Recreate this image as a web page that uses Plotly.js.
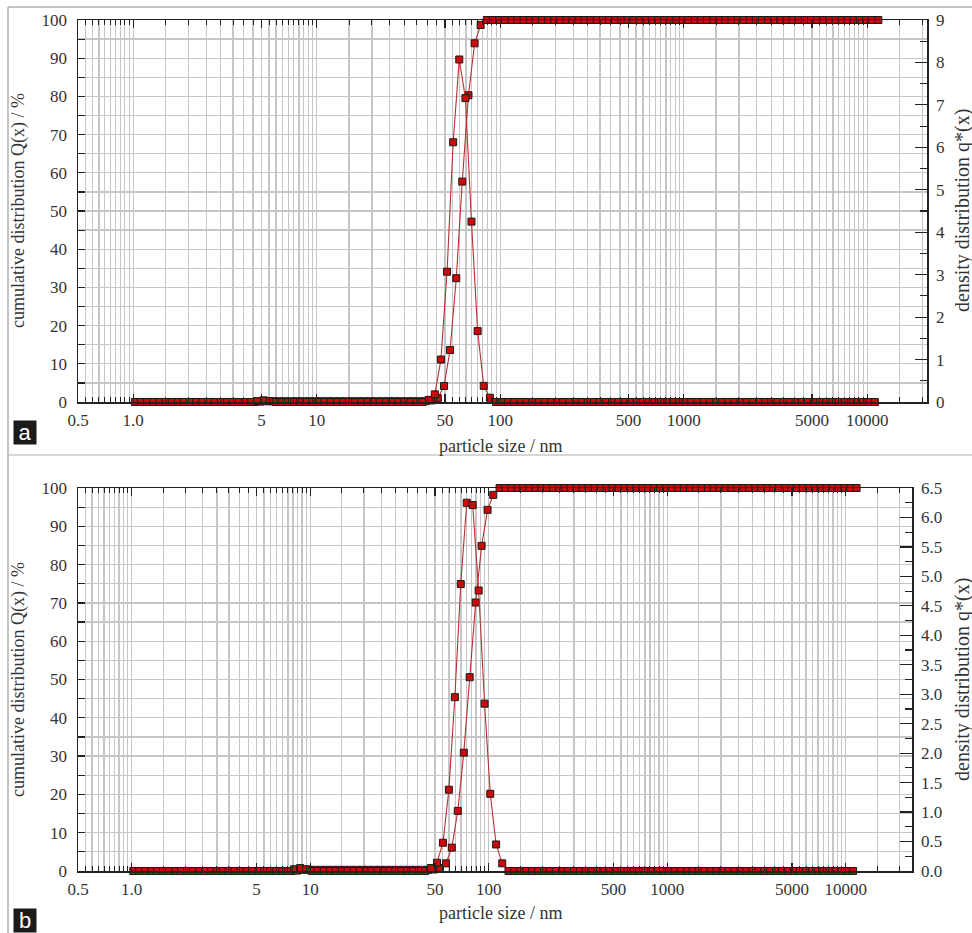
<!DOCTYPE html>
<html>
<head>
<meta charset="utf-8">
<script src="https://cdn.plot.ly/plotly-3.0.1.min.js"></script>
<style>
html,body{margin:0;padding:0;background:#fff;}
#chart{width:972px;height:933px;}
#chart .xtick text, #chart .ytick text, #chart .x2tick text, #chart .y2tick text, #chart .y3tick text, #chart .y4tick text {font-family: 'Liberation Serif', serif !important;}
</style>
</head>
<body>
<div id="chart"></div>
<script>
// particle size grid (upper class edges, nm) used by the cumulative curves
const sizeEdges = [1.06,1.15,1.24,1.34,1.45,1.56,1.69,1.82,1.97,2.12,
 2.29,2.47,2.67,2.88,3.11,3.36,3.63,3.92,4.23,4.57,
 4.94,5.33,5.76,6.21,6.71,7.25,7.82,8.45,9.12,9.85,
 10.6,11.5,12.4,13.4,14.5,15.6,16.9,18.2,19.7,21.2,
 22.9,24.7,26.7,28.8,31.1,33.6,36.3,39.2,42.3,45.7,
 49.4,53.3,57.6,62.1,67.1,72.5,78.2,84.5,91.2,98.5,
 106,115,124,134,145,156,169,182,197,212,
 229,247,267,288,311,336,363,392,423,457,
 494,533,576,621,671,725,782,845,912,985,
 1060,1150,1240,1340,1450,1560,1690,1820,1970,2120,
 2290,2470,2670,2880,3110,3360,3630,3920,4230,4570,
 4940,5330,5760,6210,6710,7250,7820,8450,9120,9850,
 10600,11500];
// class mid sizes (nm) used by the density curves
const sizeMids = [1.02,1.10,1.19,1.29,1.39,1.50,1.62,1.75,1.89,2.04,
 2.20,2.38,2.57,2.78,3.00,3.24,3.49,3.77,4.07,4.40,
 4.75,5.13,5.54,5.98,6.46,6.97,7.53,8.13,8.78,9.48,
 10.2,11.0,11.9,12.9,13.9,15.0,16.2,17.5,18.9,20.4,
 22.0,23.8,25.7,27.8,30.0,32.4,34.9,37.7,40.7,44.0,
 47.5,51.3,55.4,59.8,64.6,69.7,75.3,81.3,87.8,94.8,
 102,110,119,129,139,150,162,175,189,204,
 220,238,257,278,300,324,349,377,407,440,
 475,513,554,598,646,697,753,813,878,948,
 1020,1100,1190,1290,1390,1500,1620,1750,1890,2040,
 2200,2380,2570,2780,3000,3240,3490,3770,4070,4400,
 4750,5130,5540,5980,6460,6970,7530,8130,8780,9480,
 10200,11000];

// panel a
const cumA = [0,0,0,0,0,0,0,0,0,0,
 0,0,0,0,0,0,0,0,0,0,
 0.1,0.2,0.2,0.2,0.2,0.2,0.2,0.2,0.2,0.2,
 0.2,0.2,0.2,0.2,0.2,0.2,0.2,0.2,0.2,0.2,
 0.2,0.2,0.2,0.2,0.2,0.2,0.2,0.2,0.4,1.0,
 4.2,13.6,32.4,57.7,80.3,93.9,98.7,100,100,100,
 100,100,100,100,100,100,100,100,100,100,
 100,100,100,100,100,100,100,100,100,100,
 100,100,100,100,100,100,100,100,100,100,
 100,100,100,100,100,100,100,100,100,100,
 100,100,100,100,100,100,100,100,100,100,
 100,100,100,100,100,100,100,100,100,100,
 100,100];
const densA = [0,0,0,0,0,0,0,0,0,0,
 0,0,0,0,0,0,0,0,0,0,
 0.02,0.04,0.02,0,0,0,0,0,0,0,
 0,0,0,0,0,0,0,0,0,0,
 0,0,0,0,0,0,0,0,0.05,0.18,
 1.0,3.07,6.12,8.07,7.16,4.25,1.67,0.38,0.1,0,
 0,0,0,0,0,0,0,0,0,0,
 0,0,0,0,0,0,0,0,0,0,
 0,0,0,0,0,0,0,0,0,0,
 0,0,0,0,0,0,0,0,0,0,
 0,0,0,0,0,0,0,0,0,0,
 0,0,0,0,0,0,0,0,0,0,
 0,0];
// panel b
const cumB = [0,0,0,0,0,0,0,0,0,0,
 0,0,0,0,0,0,0,0,0,0,
 0,0,0,0,0,0,0,0.1,0.3,0.3,
 0.3,0.3,0.3,0.3,0.3,0.3,0.3,0.3,0.3,0.3,
 0.3,0.3,0.3,0.3,0.3,0.3,0.3,0.3,0.3,0.3,
 0.4,0.8,2.0,6.1,15.7,30.9,50.6,70.1,84.9,94.3,
 98.2,100,100,100,100,100,100,100,100,100,
 100,100,100,100,100,100,100,100,100,100,
 100,100,100,100,100,100,100,100,100,100,
 100,100,100,100,100,100,100,100,100,100,
 100,100,100,100,100,100,100,100,100,100,
 100,100,100,100,100,100,100,100,100,100,
 100,100];
const densB = [0,0,0,0,0,0,0,0,0,0,
 0,0,0,0,0,0,0,0,0,0,
 0,0,0,0,0,0,0,0.03,0.05,0.03,
 0,0,0,0,0,0,0,0,0,0,
 0,0,0,0,0,0,0,0,0,0,
 0.05,0.14,0.48,1.38,2.95,4.87,6.25,6.21,4.76,2.84,
 1.31,0.45,0.13,0,0,0,0,0,0,0,
 0,0,0,0,0,0,0,0,0,0,
 0,0,0,0,0,0,0,0,0,0,
 0,0,0,0,0,0,0,0,0,0,
 0,0,0,0,0,0,0,0,0,0,
 0,0,0,0,0,0,0,0,0,0,
 0,0];

// tick labels
const xTickVals = [0.5,1,5,10,50,100,500,1000,5000,10000];
const xTickText = ['0.5','1.0','5','10','50','100','500','1000','5000','10000'];
const yLeftTicks = [0,10,20,30,40,50,60,70,80,90,100];
const yRightTicksA = [0,1,2,3,4,5,6,7,8,9];
const yRightTicksB = [0,0.5,1,1.5,2,2.5,3,3.5,4,4.5,5,5.5,6,6.5];

const W = 972, H = 933;
const px = v => v / W;
const py = v => 1 - v / H;

// vertical grid positions (half-steps within each decade)
const gridVals = [];
[0.1,1,10,100,1000,10000].forEach(d => {
  for (let m = 1.5; m < 10; m += 0.5) { const v = d * m; if (v > 0.5 && v < 21000) gridVals.push(v); }
});

const serif = 'Liberation Serif';
const mkTickFont = () => ({family: serif, size: 17, color: '#333'});
const gridColor = '#c6c6c6';
const axisColor = '#222';

const markerStyle = {symbol: 'square', size: 7, color: '#cc0a0a', line: {color: '#1a1a1a', width: 1}};
const lineStyle = {color: '#b83030', width: 1.1};

function xAxis(domainRight, rangeRight, anchor) {
  return {
    type: 'log', domain: [px(78), px(domainRight)], anchor: anchor,
    range: [Math.log10(0.5), rangeRight],
    tickmode: 'array', tickvals: xTickVals, ticktext: xTickText,
    ticks: 'inside', ticklen: 8, tickwidth: 1.2, tickcolor: axisColor,
    showline: true, linecolor: axisColor, linewidth: 1.5, mirror: 'ticks',
    showgrid: true, gridcolor: gridColor, gridwidth: 1.3,
    minor: {tickmode: 'array', tickvals: gridVals, ticks: 'inside', ticklen: 5, tickcolor: axisColor, tickwidth: 1,
            showgrid: true, gridcolor: gridColor, gridwidth: 1.3},
    tickfont: mkTickFont(), zeroline: false, ticklabelstandoff: 2
  };
}
function yLeft(top, bottom, anchor) {
  return {
    domain: [py(bottom), py(top)], anchor: anchor, range: [0, 100],
    tickmode: 'array', tickvals: yLeftTicks,
    ticks: 'inside', ticklen: 7, tickwidth: 1.2, tickcolor: axisColor,
    showline: true, linecolor: axisColor, linewidth: 1.5,
    showgrid: true, gridcolor: gridColor, gridwidth: 1.3,
    minor: {dtick: 5, ticks: 'inside', ticklen: 7, tickcolor: axisColor, showgrid: true, gridcolor: gridColor, gridwidth: 1.3},
    tickfont: mkTickFont(), zeroline: false, ticklabelstandoff: 6
  };
}
function yRight(over, anchor, max, vals, fmt, minorStep) {
  return {
    overlaying: over, side: 'right', anchor: anchor, range: [0, max],
    tickmode: 'array', tickvals: vals, tickformat: fmt,
    ticks: 'inside', ticklen: 12, tickwidth: 1.2, tickcolor: axisColor,
    showline: true, linecolor: axisColor, linewidth: 1.5,
    showgrid: false, zeroline: false,
    minor: {dtick: minorStep, ticks: 'inside', ticklen: 7, tickcolor: axisColor, showgrid: false},
    tickfont: mkTickFont(), ticklabelstandoff: 4
  };
}

const traces = [
  {x: sizeEdges, y: cumA, xaxis: 'x', yaxis: 'y', type: 'scatter', mode: 'lines+markers', marker: markerStyle, line: lineStyle, cliponaxis: false, name: 'Q(x) a'},
  {x: sizeMids, y: densA, xaxis: 'x', yaxis: 'y2', type: 'scatter', mode: 'lines+markers', marker: markerStyle, line: lineStyle, cliponaxis: false, name: 'q*(x) a'},
  {x: sizeEdges, y: cumB, xaxis: 'x2', yaxis: 'y3', type: 'scatter', mode: 'lines+markers', marker: markerStyle, line: lineStyle, cliponaxis: false, name: 'Q(x) b'},
  {x: sizeMids, y: densB, xaxis: 'x2', yaxis: 'y4', type: 'scatter', mode: 'lines+markers', marker: markerStyle, line: lineStyle, cliponaxis: false, name: 'q*(x) b'}
];

const titleFont = {family: serif, size: 18, color: '#333'};
function ann(text, x, y, angle, extra) {
  return Object.assign({text: text, xref: 'paper', yref: 'paper', x: px(x), y: py(y), showarrow: false,
    textangle: angle, font: titleFont, xanchor: 'center', yanchor: 'middle'}, extra || {});
}
const labelBox = (t, y) => ({text: t, xref: 'paper', yref: 'paper', x: px(13), y: py(y), xanchor: 'left', yanchor: 'top',
  showarrow: false, bgcolor: '#1b1b1b', width: 22, height: 23, borderpad: 0,
  font: {family: 'Liberation Sans', size: 22, color: '#fff'}});

const layout = {
  width: W, height: H, margin: {l: 0, r: 0, t: 0, b: 0},
  font: {family: serif, color: '#333'},
  paper_bgcolor: '#fff', plot_bgcolor: '#fff', showlegend: false,
  xaxis: xAxis(927, Math.log10(0.5) + 849 / 183.5, 'y'),
  yaxis: yLeft(20, 402, 'x'),
  yaxis2: yRight('y', 'x', 9, yRightTicksA, 'd', 0.5),
  xaxis2: xAxis(912, Math.log10(0.5) + 834 / 178.5, 'y3'),
  yaxis3: yLeft(488, 871, 'x2'),
  yaxis4: yRight('y3', 'x2', 6.5, yRightTicksB, '.1f', 0.25),
  annotations: [
    ann('cumulative distribution Q(x) / %', 18, 211, -90),
    ann('density distribution q*(x)', 962, 211, -90, {font: Object.assign({}, titleFont, {size: 20})}),
    ann('particle size / nm', 500, 446, 0),
    ann('cumulative distribution Q(x) / %', 18, 680, -90),
    ann('density distribution q*(x)', 962, 680, -90, {font: Object.assign({}, titleFont, {size: 20})}),
    ann('particle size / nm', 500, 913, 0),
    labelBox('a', 420),
    labelBox('b', 908)
  ],
  shapes: [
    {type: 'line', xref: 'paper', yref: 'paper', x0: px(8), x1: 1, y0: py(7), y1: py(7), line: {color: '#8a8a8a', width: 1}},
    {type: 'line', xref: 'paper', yref: 'paper', x0: px(8), x1: px(8), y0: 0, y1: py(7), line: {color: '#8a8a8a', width: 1}},
    {type: 'line', xref: 'paper', yref: 'paper', x0: px(8), x1: 1, y0: py(455), y1: py(455), line: {color: '#b0b0b0', width: 1}}
  ]
};

Plotly.newPlot('chart', traces, layout, {displayModeBar: false, staticPlot: true});
</script>
</body>
</html>
